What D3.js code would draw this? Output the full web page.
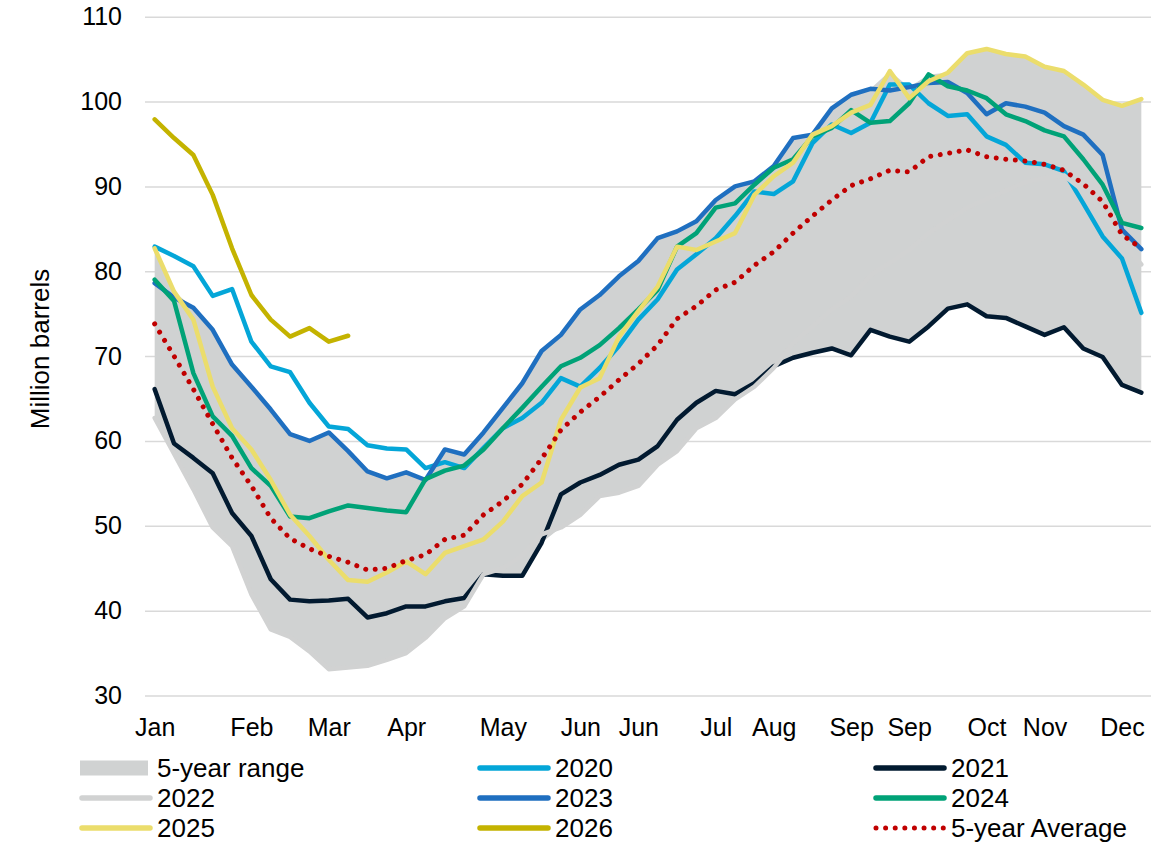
<!DOCTYPE html>
<html><head><meta charset="utf-8">
<script src="https://cdn.jsdelivr.net/npm/d3@7"></script>
<style>
body{margin:0;background:#fff}
svg{display:block;background:#fff}
text{font-family:"Liberation Sans",Arial,sans-serif;fill:#000}
</style>
</head><body>
<svg id="chart" width="1174" height="842"></svg>
<script>
// ---- data ----
const weeks = d3.range(1, 53);
const tickWeeks = [1, 6, 10, 14, 19, 23, 26, 30, 33, 37, 40, 44, 47, 51];
const tickNames = ["Jan","Feb","Mar","Apr","May","Jun","Jun","Jul","Aug","Sep","Sep","Oct","Nov","Dec"];
const yTicks = [30, 40, 50, 60, 70, 80, 90, 100, 110];

const y2020 = [82.9,81.8,80.6,77.1,77.9,71.7,68.8,68.1,64.5,61.7,61.4,59.5,59.1,59.0,56.8,57.5,56.8,59.2,61.5,62.7,64.5,67.4,66.4,68.6,71.2,74.3,76.7,80.2,82.0,83.9,86.5,89.4,89.1,90.6,95.1,97.3,96.3,97.5,102.0,102.0,99.8,98.3,98.5,95.9,94.9,92.8,92.6,91.8,88.0,84.1,81.5,75.1];
const y2021 = [66.1,59.7,58.0,56.2,51.5,48.8,43.7,41.3,41.1,41.2,41.4,39.2,39.7,40.5,40.5,41.1,41.5,44.3,44.1,44.1,48.0,53.7,55.1,56.0,57.2,57.8,59.4,62.5,64.5,65.9,65.5,66.8,68.8,69.8,70.4,70.9,70.1,73.1,72.3,71.7,73.5,75.6,76.1,74.7,74.5,73.5,72.5,73.4,70.9,69.9,66.6,65.7];
const y2022 = [62.7,58.5,54.3,49.8,47.6,41.9,37.8,36.9,35.2,33.1,33.3,33.5,34.2,35.0,36.8,39.1,40.5,44.3,45.0,46.5,49.0,49.8,51.3,53.5,53.9,54.7,57.2,58.8,61.5,62.7,64.9,66.4,68.6,71.5,73.5,75.5,77.0,79.5,81.0,82.5,84.5,86.0,87.5,88.5,89.5,90.5,91.0,91.3,89.5,87.0,83.5,80.8];
const y2023 = [78.6,76.9,75.7,73.1,69.0,66.4,63.7,60.8,60.0,61.0,58.8,56.4,55.6,56.3,55.4,59.0,58.4,61.0,63.9,66.8,70.6,72.5,75.5,77.2,79.4,81.2,83.9,84.7,85.9,88.4,90.0,90.6,92.4,95.7,96.1,99.2,100.8,101.5,101.3,101.7,102.2,102.3,101.0,98.5,99.8,99.4,98.7,97.1,96.1,93.7,84.9,82.6];
const y2024 = [79.0,76.5,68.0,62.9,60.6,56.8,54.7,51.1,50.9,51.7,52.4,52.1,51.8,51.6,55.5,56.5,57.1,59.0,61.5,63.9,66.4,68.8,69.8,71.3,73.3,75.5,77.8,82.9,84.5,87.5,88.0,90.2,92.2,93.2,95.9,96.9,99.0,97.5,97.7,99.8,103.2,101.8,101.3,100.4,98.5,97.7,96.6,95.9,93.2,90.2,85.7,85.1];
const y2025 = [82.7,77.6,74.3,66.4,61.5,59.0,55.4,51.3,48.8,46.0,43.6,43.4,44.5,45.8,44.3,46.8,47.6,48.4,50.5,53.5,55.1,62.5,66.3,67.4,72.3,75.3,78.2,82.9,82.5,83.5,84.5,89.0,91.2,92.8,96.1,97.1,98.7,99.6,103.6,100.4,102.4,103.4,105.7,106.2,105.6,105.3,104.1,103.6,102.0,100.2,99.5,100.3];
const y2026 = [97.9,95.7,93.7,89.0,82.7,77.2,74.3,72.3,73.3,71.7,72.4];
const avg5 = [73.8,70.0,66.1,62.0,58.0,54.7,50.9,48.5,47.3,46.4,45.7,44.8,45.0,45.9,46.6,48.4,48.9,51.3,52.9,54.9,57.9,61.3,63.4,65.2,67.2,69.1,71.3,74.4,75.9,77.8,78.7,80.7,82.3,84.5,86.5,88.4,90.1,90.9,91.9,91.7,93.5,93.9,94.3,93.5,93.2,93.0,92.6,91.9,90.3,88.2,84.3,82.7];

const lineSeries = [
  {name:"2020", values:y2020},
  {name:"2021", values:y2021},
  {name:"2022", values:y2022},
  {name:"2023", values:y2023},
  {name:"2024", values:y2024},
  {name:"2025", values:y2025},
  {name:"2026", values:y2026}
];
const rangeYears = [y2021, y2022, y2023, y2024, y2025];
const legendLabels = ["5-year range","2020","2021","2022","2023","2024","2025","2026","5-year Average"];

// ---- styles ----
const colors = {"2020":"#04a6d8","2021":"#021a30","2022":"#d1d2d2","2023":"#1f6fc0","2024":"#00a277","2025":"#ebdd6c","2026":"#c4b300"};
const bandColor = "#d0d2d2";
const avgColor = "#c00000";
const TICK_FONT = 25;
const FONT = 26;

const svg = d3.select("#chart");
const plotL = 145, plotR = 1151, plotT = 16.7, plotB = 695.5;
const x = d3.scalePoint().domain(weeks).range([plotL, plotR]).padding(0.5);
const y = d3.scaleLinear().domain([30, 110]).range([plotB, plotT]);

// gridlines
const grid = svg.append("g").attr("transform", `translate(${plotL},0)`)
  .call(d3.axisLeft(y).tickValues(yTicks).tickSize(-(plotR-plotL)).tickFormat(""));
grid.select(".domain").remove();
grid.selectAll("line").attr("stroke", "#d9d9d9").attr("stroke-width", 1.5);

// band
const band = weeks.map((w, i) => ({w, lo: d3.min(rangeYears, s => s[i]), hi: d3.max(rangeYears, s => s[i])}));
svg.append("path").datum(band)
  .attr("fill", bandColor)
  .attr("d", d3.area().x(d => x(d.w)).y0(d => y(d.lo)).y1(d => y(d.hi)));

// lines
const line = d3.line().x((d, i) => x(weeks[i])).y(d => y(d));
svg.append("g").selectAll("path").data(lineSeries).join("path")
  .attr("fill", "none")
  .attr("stroke", d => colors[d.name])
  .attr("stroke-width", 4.5)
  .attr("stroke-linejoin", "round")
  .attr("stroke-linecap", "round")
  .attr("d", d => line(d.values));

// average
svg.append("path").datum(avg5)
  .attr("fill", "none")
  .attr("stroke", avgColor)
  .attr("stroke-width", 5)
  .attr("stroke-linecap", "round")
  .attr("stroke-dasharray", "0.01 9.6")
  .attr("d", line);

// y axis labels
const ya = svg.append("g").attr("transform", `translate(${plotL},0)`)
  .call(d3.axisLeft(y).tickValues(yTicks).tickSize(0).tickPadding(23));
ya.select(".domain").remove();
ya.selectAll("text").attr("font-size", TICK_FONT).attr("font-family", null);

// x axis labels
const xa = svg.append("g").attr("transform", `translate(0,${plotB})`)
  .call(d3.axisBottom(x).tickValues(tickWeeks).tickSize(0).tickPadding(23)
    .tickFormat((d, i) => tickNames[i]));
xa.select(".domain").remove();
xa.selectAll("text").attr("font-size", TICK_FONT).attr("font-family", null);

// y title
svg.append("text")
  .attr("transform", "translate(49,349) rotate(-90)")
  .attr("text-anchor", "middle")
  .attr("font-size", FONT)
  .text("Million barrels");

// legend
const colX = [80, 478, 874];
const rowY = [768, 798, 828];
const lg = svg.append("g");
legendLabels.forEach((lab, k) => {
  const cx = colX[k % 3], cy = rowY[Math.floor(k / 3)];
  const g = lg.append("g");
  if (lab === "5-year range") {
    g.append("rect").attr("x", cx).attr("y", cy - 7.5).attr("width", 68).attr("height", 15).attr("fill", bandColor);
  } else if (lab === "5-year Average") {
    g.append("line").attr("x1", cx + 2).attr("x2", cx + 70).attr("y1", cy).attr("y2", cy)
      .attr("stroke", avgColor).attr("stroke-width", 5).attr("stroke-linecap", "round").attr("stroke-dasharray", "0.01 9.6");
  } else {
    g.append("line").attr("x1", cx + 2).attr("x2", cx + 70).attr("y1", cy).attr("y2", cy)
      .attr("stroke", colors[lab]).attr("stroke-width", 5.5).attr("stroke-linecap", "round");
  }
  g.append("text").attr("x", cx + 77).attr("y", cy).attr("dy", "0.35em")
    .attr("font-size", FONT).text(lab);
});
</script>
</body></html>
